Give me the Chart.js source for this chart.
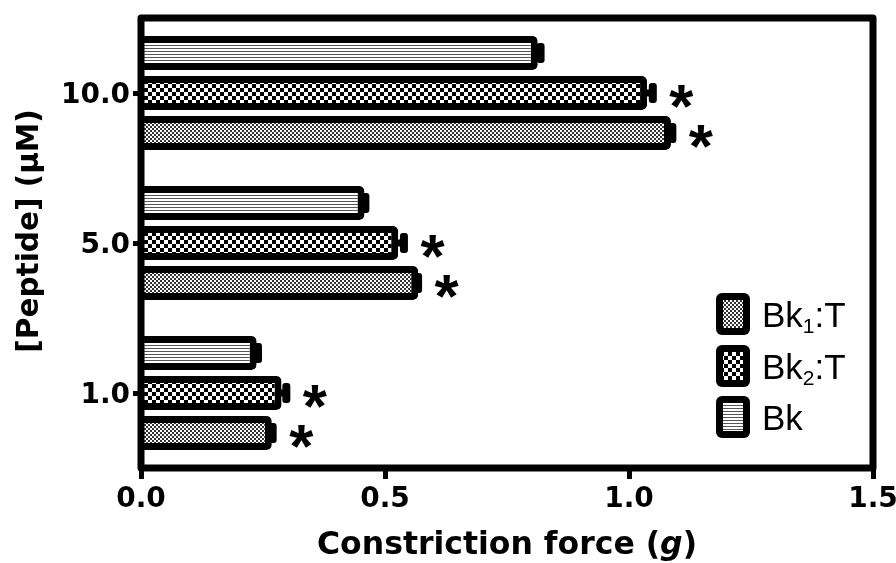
<!DOCTYPE html>
<html>
<head>
<meta charset="utf-8">
<script src="https://cdn.jsdelivr.net/npm/chart.js@4.4.1/dist/chart.umd.min.js"></script>
<style>
  html, body { margin: 0; padding: 0; background: #fff; }
  #wrap { width: 896px; height: 563px; }
</style>
</head>
<body>
<div id="wrap"><canvas id="c" width="896" height="563"></canvas></div>
<script>
// Peptide concentrations (µM), top to bottom
const concentrations = ['10.0', '5.0', '1.0'];

// Constriction force (g) and SEM per peptide treatment
const bkValues   = [0.813, 0.458, 0.237];
const bkErrors   = [0.014, 0.010, 0.011];
const bk2tValues = [1.037, 0.527, 0.288];
const bk2tErrors = [0.020, 0.020, 0.018];
const bk1tValues = [1.086, 0.568, 0.268];
const bk1tErrors = [0.011, 0.008, 0.010];

// Significance markers (*)
const bkSignificant   = [false, false, false];
const bk2tSignificant = [true, true, true];
const bk1tSignificant = [true, true, true];

// Legend text: base, subscript, tail
const bkLabel   = ['Bk', '', ''];
const bk2tLabel = ['Bk', '2', ':T'];
const bk1tLabel = ['Bk', '1', ':T'];

const forceTicks = [0, 0.5, 1.0, 1.5];
const xTitleParts = ['Constriction force (', 'g', ')'];
const yTitle = '[Peptide] (\u03bcM)';

const canvas = document.getElementById('c');
const ctx = canvas.getContext('2d');

function makePattern(w, h, paint) {
  const tile = document.createElement('canvas');
  tile.width = w; tile.height = h;
  paint(tile.getContext('2d'));
  return ctx.createPattern(tile, 'repeat');
}
const stripeFill = makePattern(1, 3, g => {
  g.fillStyle = '#fff'; g.fillRect(0, 0, 1, 3);
  g.fillStyle = '#555'; g.fillRect(0, 0, 1, 1);
});
const coarseCheck = makePattern(8, 8, g => {
  g.fillStyle = '#fff'; g.fillRect(0, 0, 8, 8);
  g.fillStyle = '#000'; g.fillRect(0, 0, 4, 4); g.fillRect(4, 4, 4, 4);
});
const fineCheck = makePattern(4, 4, g => {
  g.fillStyle = '#fff'; g.fillRect(0, 0, 4, 4);
  g.fillStyle = '#333'; g.fillRect(0, 0, 2, 2); g.fillRect(2, 2, 2, 2);
});

const AXIS_FONT = 'DejaVu Sans';

const decorations = {
  id: 'decorations',
  afterDatasetsDraw(chart) {
    const c = chart.ctx;
    const xs = chart.scales.x;
    const area = chart.chartArea;
    c.save();
    // error bars and significance asterisks
    chart.data.datasets.forEach((ds, i) => {
      const meta = chart.getDatasetMeta(i);
      meta.data.forEach((bar, j) => {
        const end = bar.x, cy = bar.y;
        const tip = xs.getPixelForValue(ds.data[j] + ds.errors[j]);
        c.fillStyle = '#000';
        c.fillRect(end - 4, cy - 3.5, tip - end + 1, 7);
        c.beginPath();
        c.roundRect(tip - 8, cy - 10, 8, 20, 3);
        c.fill();
        if (ds.significant[j]) {
          c.font = 'bold 62px "Liberation Sans"';
          c.textAlign = 'left';
          c.textBaseline = 'alphabetic';
          const m = c.measureText('*');
          const w = m.actualBoundingBoxRight + m.actualBoundingBoxLeft;
          const gx = tip + 25 - w / 2 + m.actualBoundingBoxLeft;
          const gy = cy + 3 + (m.actualBoundingBoxAscent - m.actualBoundingBoxDescent) / 2;
          c.fillText('*', gx, gy);
        }
      });
    });
    // plot frame
    c.strokeStyle = '#000';
    c.lineWidth = 7;
    c.lineJoin = 'round';
    c.strokeRect(area.left, area.top, area.right - area.left, area.bottom - area.top);
    c.restore();
  },
  afterDraw(chart) {
    const c = chart.ctx;
    const area = chart.chartArea;
    c.save();
    c.fillStyle = '#000';
    c.textBaseline = 'alphabetic';
    c.textAlign = 'left';

    // x-axis title with italic unit
    const cx = (area.left + area.right) / 2;
    const base = 554;
    const size = 31.5;
    const fonts = ['bold ' + size + 'px "' + AXIS_FONT + '"', 'italic bold ' + size + 'px "' + AXIS_FONT + '"', 'bold ' + size + 'px "' + AXIS_FONT + '"'];
    let total = 0;
    const widths = xTitleParts.map((t, k) => { c.font = fonts[k]; const w = c.measureText(t).width; total += w; return w; });
    let x = cx - total / 2;
    xTitleParts.forEach((t, k) => { c.font = fonts[k]; c.fillText(t, x, base); x += widths[k]; });

    // y-axis title, rotated
    c.save();
    c.translate(30, 231);
    c.rotate(-Math.PI / 2);
    c.font = 'bold 29.5px "' + AXIS_FONT + '"';
    c.textAlign = 'center';
    c.textBaseline = 'middle';
    c.fillText(yTitle, 0, 0);
    c.restore();

    // legend, in reverse dataset order
    const order = [2, 1, 0];
    const centers = [314, 366, 417];
    order.forEach((di, k) => {
      const ds = chart.data.datasets[di];
      const bx = 716, bw = 34, bh = 42, by = centers[k] - bh / 2;
      c.fillStyle = '#000';
      c.beginPath(); c.roundRect(bx, by, bw, bh, 6); c.fill();
      c.fillStyle = ds.backgroundColor;
      c.fillRect(bx + 7, by + 7, bw - 14, bh - 14);
      const [b, sub, tail] = ds.legendText;
      const tb = centers[k] + 12.5;
      let tx = 762;
      c.fillStyle = '#000';
      c.font = '35px "Liberation Sans"';
      c.fillText(b, tx, tb); tx += c.measureText(b).width;
      if (sub) {
        c.font = '21px "Liberation Sans"';
        c.fillText(sub, tx, tb + 6); tx += c.measureText(sub).width;
      }
      if (tail) {
        c.font = '35px "Liberation Sans"';
        c.fillText(tail, tx, tb);
      }
    });
    c.restore();
  }
};

new Chart(ctx, {
  type: 'bar',
  data: {
    labels: concentrations,
    datasets: [
      { label: 'Bk', data: bkValues, errors: bkErrors, significant: bkSignificant, legendText: bkLabel, backgroundColor: stripeFill },
      { label: 'Bk2:T', data: bk2tValues, errors: bk2tErrors, significant: bk2tSignificant, legendText: bk2tLabel, backgroundColor: coarseCheck },
      { label: 'Bk1:T', data: bk1tValues, errors: bk1tErrors, significant: bk1tSignificant, legendText: bk1tLabel, backgroundColor: fineCheck }
    ]
  },
  options: {
    indexAxis: 'y',
    responsive: false,
    animation: false,
    devicePixelRatio: 1,
    layout: { padding: { top: 18, right: 23, left: 0, bottom: 0 } },
    datasets: {
      bar: {
        categoryPercentage: 0.8,
        barPercentage: 0.85,
        borderColor: '#000',
        borderWidth: 7,
        borderRadius: 5,
        borderSkipped: 'start'
      }
    },
    plugins: { legend: { display: false }, tooltip: { enabled: false } },
    scales: {
      x: {
        type: 'linear',
        min: 0,
        max: 1.5,
        afterBuildTicks: s => { s.ticks = forceTicks.map(v => ({ value: v })); },
        afterFit: s => { s.height = 95; s.paddingLeft = 0; s.paddingRight = 0; },
        ticks: {
          callback: v => Number(v).toFixed(1),
          font: { family: AXIS_FONT, weight: 'bold', size: 28 },
          color: '#000',
          padding: 4
        },
        grid: { drawOnChartArea: false, tickLength: 11, tickWidth: 5, tickColor: '#000' },
        border: { display: false }
      },
      y: {
        afterFit: s => { s.width = 141; s.paddingTop = 0; s.paddingBottom = 0; },
        ticks: {
          font: { family: AXIS_FONT, weight: 'bold', size: 28 },
          color: '#000',
          padding: 3,
          labelOffset: 3
        },
        grid: { offset: false, drawOnChartArea: false, tickLength: 8, tickWidth: 5, tickColor: '#000' },
        border: { display: false }
      }
    }
  },
  plugins: [decorations]
});
</script>
</body>
</html>
